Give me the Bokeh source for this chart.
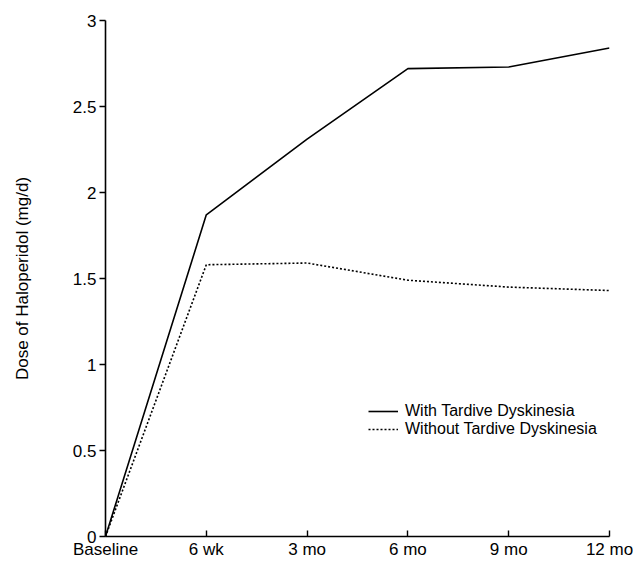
from bokeh.plotting import figure
from bokeh.models import FixedTicker, Legend, LegendItem, Range1d
from bokeh.embed import file_html
from bokeh.resources import INLINE

timepoints = ["Baseline", "6 wk", "3 mo", "6 mo", "9 mo", "12 mo"]
with_td = [0, 1.87, 2.31, 2.72, 2.73, 2.84]
without_td = [0, 1.58, 1.59, 1.49, 1.45, 1.43]
y_ticks = [0, 0.5, 1, 1.5, 2, 2.5, 3]
y_tick_labels = ["0", "0.5", "1", "1.5", "2", "2.5", "3"]
series_labels = ["With Tardive Dyskinesia", "Without Tardive Dyskinesia"]

xs = list(range(len(timepoints)))
FONT = "Liberation Sans"

p = figure(width=633, height=561, output_backend="svg", toolbar_location=None,
           x_range=Range1d(0, len(timepoints) - 1), y_range=Range1d(0, 3),
           min_border_left=105, min_border_right=24, min_border_top=20, min_border_bottom=20)
p.outline_line_color = None
p.grid.grid_line_color = None

r1 = p.line(xs, with_td, line_color="black", line_width=1.6)
r2 = p.line(xs, without_td, line_color="black", line_width=1.6, line_dash="2 2")

p.xaxis.ticker = FixedTicker(ticks=xs)
p.xaxis.major_label_overrides = {i: t for i, t in enumerate(timepoints)}
p.yaxis.ticker = FixedTicker(ticks=y_ticks)
p.yaxis.major_label_overrides = {v: s for v, s in zip(y_ticks, y_tick_labels)}

for ax in (p.xaxis[0], p.yaxis[0]):
    ax.axis_line_color = "black"
    ax.axis_line_width = 1.6
    ax.major_tick_line_color = "black"
    ax.major_tick_line_width = 1.4
    ax.minor_tick_line_color = None
    ax.major_label_text_font = FONT
    ax.major_label_text_font_size = "17px"
    ax.major_label_text_color = "black"

p.xaxis.major_tick_in = 6
p.xaxis.major_tick_out = 0
p.xaxis.major_label_standoff = 3
p.yaxis.major_tick_in = 0
p.yaxis.major_tick_out = 6
p.yaxis.major_label_standoff = 3

p.yaxis.axis_label = "Dose of Haloperidol (mg/d)"
p.yaxis.axis_label_text_font = FONT
p.yaxis.axis_label_text_font_size = "17px"
p.yaxis.axis_label_text_font_style = "normal"
p.yaxis.axis_label_text_color = "black"
p.yaxis.axis_label_standoff = 38

legend = Legend(items=[LegendItem(label=series_labels[0], renderers=[r1]),
                       LegendItem(label=series_labels[1], renderers=[r2])],
                location=(263, 98), orientation="vertical")
legend.border_line_alpha = 0
legend.background_fill_alpha = 0
legend.label_text_font = FONT
legend.label_text_font_size = "16px"
legend.label_text_color = "black"
legend.glyph_width = 30
legend.glyph_height = 14
legend.label_height = 14
legend.label_standoff = 7
legend.spacing = 0
legend.padding = 0
legend.margin = 0
p.add_layout(legend)

open("out.html", "w").write(file_html(p, INLINE))
